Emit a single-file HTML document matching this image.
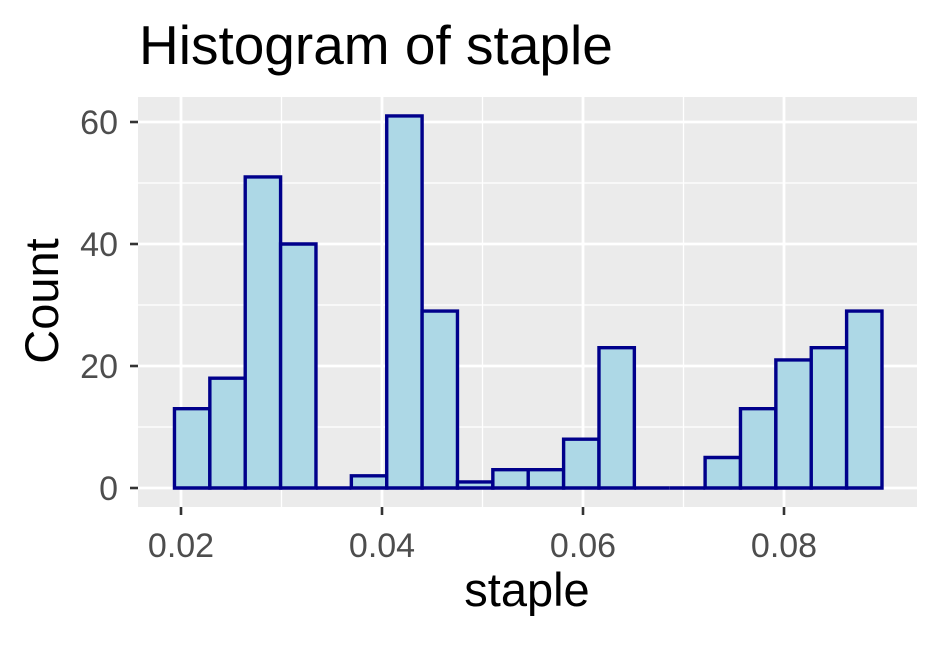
<!DOCTYPE html>
<html><head><meta charset="utf-8"><style>
body{margin:0;background:#fff;}
svg text{font-family:"Liberation Sans",Arial,sans-serif;}
</style></head><body>
<svg width="940" height="640" xmlns="http://www.w3.org/2000/svg">
<rect width="940" height="640" fill="#fff"/>
<text x="139" y="64" font-size="55" fill="#000">Histogram of staple</text>
<rect x="138" y="97" width="779" height="410" fill="#EBEBEB"/>
<g id="grid"></g>
<g id="bars"></g>
<g id="axes"></g>
<text x="527" y="606" font-size="47" text-anchor="middle" fill="#000">staple</text>
<text transform="translate(58,301) rotate(-90)" font-size="47" text-anchor="middle" fill="#000">Count</text>
</svg>
<script>
const counts = [13,18,51,40,0,2,61,29,1,3,3,8,23,0,0,5,13,21,23,29];
const binStart = 0.01935;
const binWidth = 0.00352;
const xTicks = [0.02,0.04,0.06,0.08];
const xTickLabels = ["0.02","0.04","0.06","0.08"];
const xMinor = [0.03,0.05,0.07];
const yTicks = [0,20,40,60];
const yMinor = [10,30,50];
const px0=138, px1=917, py0=97, py1=507;
function X(v){return 181+(v-0.02)*(382-181)/0.02;}
function Y(v){return 488-v*6.1;}
const NS="http://www.w3.org/2000/svg";
function mk(tag,attrs,parent){const e=document.createElementNS(NS,tag);for(const k in attrs)e.setAttribute(k,attrs[k]);parent.appendChild(e);return e;}
const grid=document.getElementById('grid'),bars=document.getElementById('bars'),axes=document.getElementById('axes');
xMinor.forEach(v=>{const l=mk('line',{x1:X(v),x2:X(v),y1:py0,y2:py1,stroke:'#fff','stroke-width':1.3},grid);

});
yMinor.forEach(v=>{const l=mk('line',{x1:px0,x2:px1,y1:Y(v),y2:Y(v),stroke:'#fff','stroke-width':1.3},grid);

});
xTicks.forEach((v,i)=>{const l=mk('line',{x1:X(v),x2:X(v),y1:py0,y2:py1,stroke:'#fff','stroke-width':2.8},grid);


const t=mk('line',{x1:X(v),x2:X(v),y1:py1,y2:py1+8,stroke:'#333','stroke-width':2.6},axes);


const tx=mk('text',{x:X(v),y:557,'font-size':34,'text-anchor':'middle',fill:'#4D4D4D'},axes);tx.textContent=xTickLabels[i];

});
yTicks.forEach(v=>{const l=mk('line',{x1:px0,x2:px1,y1:Y(v),y2:Y(v),stroke:'#fff','stroke-width':2.8},grid);


const t=mk('line',{x1:px0-8,x2:px0,y1:Y(v),y2:Y(v),stroke:'#333','stroke-width':2.6},axes);


const tx=mk('text',{x:px0-20,y:Y(v)+12,'font-size':34,'text-anchor':'end',fill:'#4D4D4D'},axes);tx.textContent=v;

});
counts.forEach((c,i)=>{const x0=X(binStart+i*binWidth),x1=X(binStart+(i+1)*binWidth);
const d=`M${x0},${Y(0)}L${x0},${Y(c)}L${x1},${Y(c)}L${x1},${Y(0)}Z`;
const r=mk('path',{d:d,fill:'#ADD8E6',stroke:'#00008B','stroke-width':3.4},bars);

});
</script>
</body></html>
